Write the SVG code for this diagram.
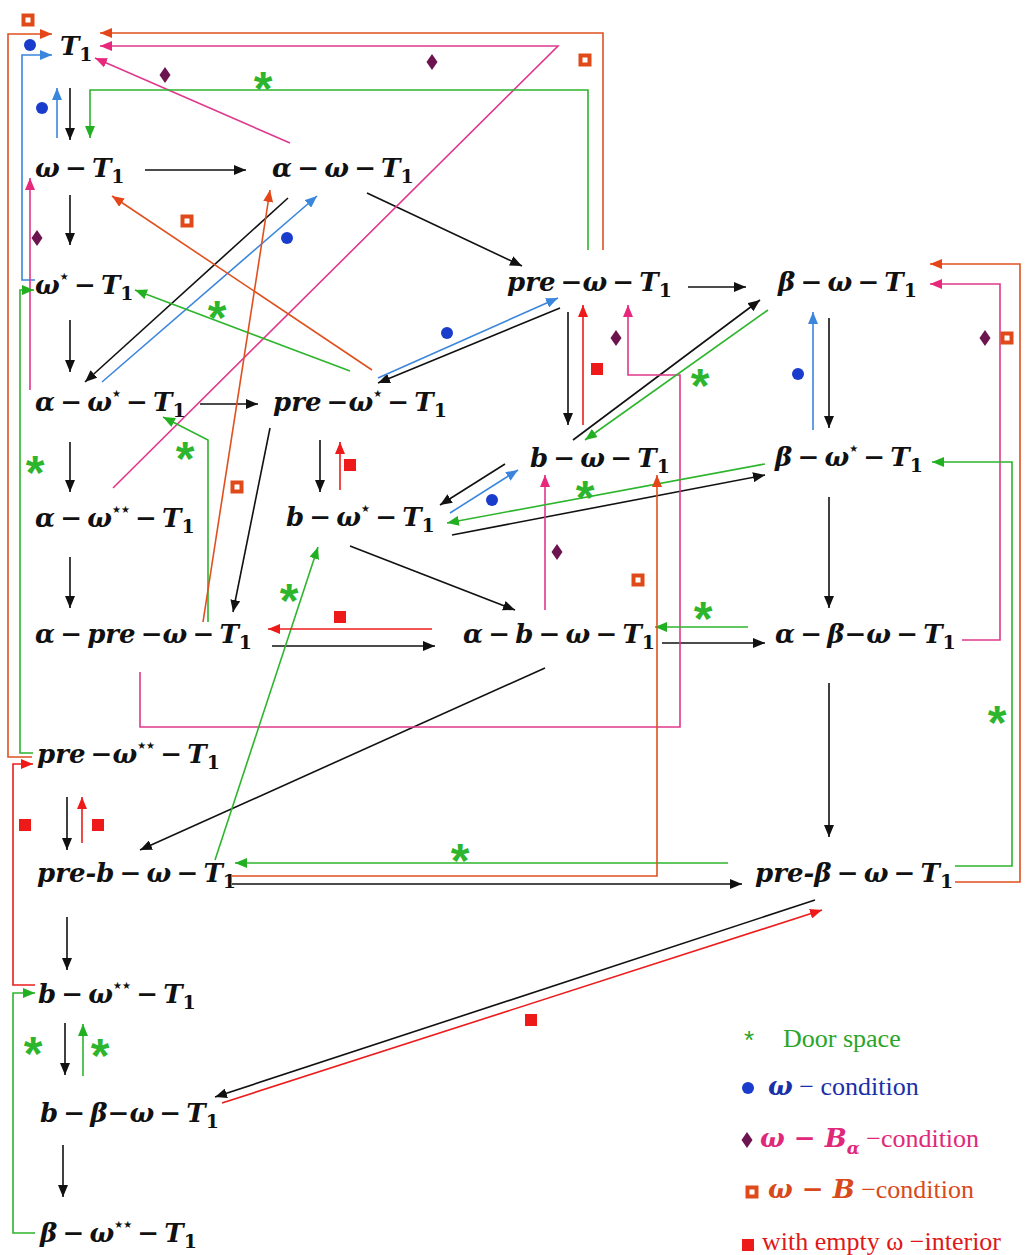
<svg xmlns="http://www.w3.org/2000/svg" xmlns:xlink="http://www.w3.org/1999/xlink" width="1025" height="1255" viewBox="0 0 1025 1255">
<style>
.n{font-family:"DejaVu Serif","Liberation Serif",serif;font-weight:bold;font-style:italic;font-size:26px;fill:#111}
.sub{font-size:19px;font-style:normal}
.sup{font-family:"DejaVu Sans",sans-serif;font-size:10px;font-style:normal}
.c{fill:none;stroke-width:1.6}
.k{stroke:#111;marker-end:url(#ak)}
.u{stroke:#3a86dc;marker-end:url(#au)}
.p{stroke:#e0388c;marker-end:url(#ap)}
.g{stroke:#2db52d;marker-end:url(#ag)}
.o{stroke:#e0501e;marker-end:url(#ao)}
.r{stroke:#ec1c1c;marker-end:url(#ar)}
.ast{font-family:"Liberation Sans",sans-serif;font-weight:bold;font-size:48px;fill:#2db52d;text-anchor:middle}
.lg{font-family:"Liberation Serif",serif;font-size:26px}
.bi{font-family:"DejaVu Serif",serif;font-weight:bold;font-style:italic}
</style>
<defs>
<marker id="ak" viewBox="0 0 12 10" refX="12" refY="5" markerWidth="12" markerHeight="10" markerUnits="userSpaceOnUse" orient="auto"><path d="M0,0L12,5L0,10z" fill="#111"/></marker>
<marker id="au" viewBox="0 0 12 10" refX="12" refY="5" markerWidth="12" markerHeight="10" markerUnits="userSpaceOnUse" orient="auto"><path d="M0,0L12,5L0,10z" fill="#3a86dc"/></marker>
<marker id="ap" viewBox="0 0 12 10" refX="12" refY="5" markerWidth="12" markerHeight="10" markerUnits="userSpaceOnUse" orient="auto"><path d="M0,0L12,5L0,10z" fill="#e8287c"/></marker>
<marker id="ag" viewBox="0 0 12 10" refX="12" refY="5" markerWidth="12" markerHeight="10" markerUnits="userSpaceOnUse" orient="auto"><path d="M0,0L12,5L0,10z" fill="#22b022"/></marker>
<marker id="ao" viewBox="0 0 12 10" refX="12" refY="5" markerWidth="12" markerHeight="10" markerUnits="userSpaceOnUse" orient="auto"><path d="M0,0L12,5L0,10z" fill="#e4461a"/></marker>
<marker id="ar" viewBox="0 0 12 10" refX="12" refY="5" markerWidth="12" markerHeight="10" markerUnits="userSpaceOnUse" orient="auto"><path d="M0,0L12,5L0,10z" fill="#ee1a1a"/></marker>
<g id="hsq"><rect x="-6.5" y="-6.5" width="13" height="13" fill="#e04a1a"/><rect x="-2.5" y="-2.5" width="5" height="5" fill="#fff"/></g>
<path id="dia" d="M0,-8L5.5,0L0,8L-5.5,0z" fill="#6b1450"/>
<circle id="dot" r="6" fill="#1a3ccc"/>
<rect id="rsq" x="-6" y="-6" width="12" height="12" fill="#ee1a1a"/>
</defs>
<rect width="1025" height="1255" fill="#fff"/>

<g id="connectors">
<!-- black -->
<path class="c k" d="M70,88L70,140"/>
<path class="c k" d="M145,170L246,170"/>
<path class="c k" d="M70,195L70,245"/>
<path class="c k" d="M70,320L70,372"/>
<path class="c k" d="M288,198L85,382"/>
<path class="c k" d="M367,193L522,266"/>
<path class="c k" d="M688,287L746,287"/>
<path class="c k" d="M200,404L258,404"/>
<path class="c k" d="M70,442L70,492"/>
<path class="c k" d="M70,557L70,608"/>
<path class="c k" d="M270,428L233,612"/>
<path class="c k" d="M320,440L320,492"/>
<path class="c k" d="M560,308L378,383"/>
<path class="c k" d="M568,312L568,425"/>
<path class="c k" d="M573,440L760,300"/>
<path class="c k" d="M829,318L829,428"/>
<path class="c k" d="M505,464L440,505"/>
<path class="c k" d="M452,535L765,475"/>
<path class="c k" d="M350,546L515,610"/>
<path class="c k" d="M272,646L435,646"/>
<path class="c k" d="M662,643L765,643"/>
<path class="c k" d="M829,497L829,608"/>
<path class="c k" d="M829,683L829,837"/>
<path class="c k" d="M545,668L140,850"/>
<path class="c k" d="M232,884L742,884"/>
<path class="c k" d="M815,900L215,1097"/>
<path class="c k" d="M67,797L67,850"/>
<path class="c k" d="M67,917L67,970"/>
<path class="c k" d="M65,1023L65,1075"/>
<path class="c k" d="M63,1145L63,1197"/>
<!-- blue -->
<path class="c u" d="M35,280L22,280L22,55L52,55"/>
<path class="c u" d="M57,138L57,88"/>
<path class="c u" d="M102,382L317,196"/>
<path class="c u" d="M378,378L558,298"/>
<path class="c u" d="M813,430L813,312"/>
<path class="c u" d="M450,513L518,470"/>
<!-- pink -->
<path class="c p" d="M290,143L95,58"/>
<path class="c p" d="M113,488L558,46L100,46"/>
<path class="c p" d="M30,390L30,178"/>
<path class="c p" d="M140,672L140,727L680,727L680,375L628,375L628,305"/>
<path class="c p" d="M545,610L545,475"/>
<path class="c p" d="M962,640L1000,640L1000,284L930,284"/>
<!-- green -->
<path class="c g" d="M588,250L588,90L90,90L90,138"/>
<path class="c g" d="M33,753L20,753L20,290L34,290"/>
<path class="c g" d="M350,371L135,290"/>
<path class="c g" d="M208,622L208,440L163,417"/>
<path class="c g" d="M215,860L318,547"/>
<path class="c g" d="M768,310L585,440"/>
<path class="c g" d="M765,464L447,523"/>
<path class="c g" d="M748,627L655,627"/>
<path class="c g" d="M955,866L1012,866L1012,462L932,462"/>
<path class="c g" d="M728,863L235,863"/>
<path class="c g" d="M83,1076L83,1024"/>
<path class="c g" d="M35,1233L13,1233L13,993L35,993"/>
<!-- orange -->
<path class="c o" d="M603,250L603,33L100,33"/>
<path class="c o" d="M32,757L8,757L8,34L52,34"/>
<path class="c o" d="M203,622L270,190"/>
<path class="c o" d="M372,370L112,196"/>
<path class="c o" d="M232,876L657,876L657,475"/>
<path class="c o" d="M955,882L1020,882L1020,264L930,264"/>
<!-- red -->
<path class="c r" d="M340,490L340,442"/>
<path class="c r" d="M583,425L583,305"/>
<path class="c r" d="M432,629L268,629"/>
<path class="c r" d="M82,843L82,797"/>
<path class="c r" d="M35,985L13,985L13,764L33,764"/>
<path class="c r" d="M222,1103L822,910"/>
</g>

<g id="edge-marks">
<use href="#hsq" x="28" y="20"/><use href="#hsq" x="585" y="60"/><use href="#hsq" x="187" y="221"/><use href="#hsq" x="237" y="487"/><use href="#hsq" x="638" y="580"/><use href="#hsq" x="1007" y="338"/>
<use href="#dia" x="165" y="75"/><use href="#dia" x="432" y="62"/><use href="#dia" x="37" y="238"/><use href="#dia" x="616" y="338"/><use href="#dia" x="557" y="552"/><use href="#dia" x="985" y="338"/>
<use href="#dot" x="30" y="45"/><use href="#dot" x="42" y="108"/><use href="#dot" x="287" y="238"/><use href="#dot" x="447" y="333"/><use href="#dot" x="492" y="500"/><use href="#dot" x="798" y="374"/>
<use href="#rsq" x="350" y="465"/><use href="#rsq" x="597" y="369"/><use href="#rsq" x="340" y="617"/><use href="#rsq" x="25" y="825"/><use href="#rsq" x="98" y="825"/><use href="#rsq" x="531" y="1020"/>
<text class="ast" x="263" y="105">*</text><text class="ast" x="217" y="334">*</text><text class="ast" x="185" y="475">*</text><text class="ast" x="35" y="489">*</text><text class="ast" x="289" y="617">*</text><text class="ast" x="700" y="402">*</text><text class="ast" x="585" y="514">*</text><text class="ast" x="703" y="635">*</text><text class="ast" x="997" y="739">*</text><text class="ast" x="460" y="877">*</text><text class="ast" x="33" y="1070">*</text><text class="ast" x="100" y="1072">*</text>
</g>

<g id="n-T1"><text class="n" x="60" y="55">T<tspan class="sub" dy="6">1</tspan></text></g>
<g id="n-w-T1"><text class="n" x="35" y="177">ω&#8201;−&#8201;T<tspan class="sub" dy="6">1</tspan></text></g>
<g id="n-a-w-T1"><text class="n" x="272" y="177">α&#8201;−&#8201;ω&#8201;−&#8201;T<tspan class="sub" dy="6">1</tspan></text></g>
<g id="n-ws-T1"><text class="n" x="35" y="294">ω<tspan class="sup" dy="-14">★</tspan><tspan dy="14">&#8201;−&#8201;T</tspan><tspan class="sub" dy="6">1</tspan></text></g>
<g id="n-pre-w-T1"><text class="n" x="507" y="291">pre&#8201;−ω&#8201;−&#8201;T<tspan class="sub" dy="6">1</tspan></text></g>
<g id="n-b-w-T1"><text class="n" x="778" y="291">β&#8201;−&#8201;ω&#8201;−&#8201;T<tspan class="sub" dy="6">1</tspan></text></g>
<g id="n-a-ws-T1"><text class="n" x="35" y="411">α&#8201;−&#8201;ω<tspan class="sup" dy="-14">★</tspan><tspan dy="14">&#8201;−&#8201;T</tspan><tspan class="sub" dy="6">1</tspan></text></g>
<g id="n-pre-ws-T1"><text class="n" x="273" y="411">pre&#8201;−ω<tspan class="sup" dy="-14">★</tspan><tspan dy="14">&#8201;−&#8201;T</tspan><tspan class="sub" dy="6">1</tspan></text></g>
<g id="n-bb-w-T1"><text class="n" x="530" y="467">b&#8201;−&#8201;ω&#8201;−&#8201;T<tspan class="sub" dy="6">1</tspan></text></g>
<g id="n-beta-ws-T1"><text class="n" x="775" y="466">β&#8201;−&#8201;ω<tspan class="sup" dy="-14">★</tspan><tspan dy="14">&#8201;−&#8201;T</tspan><tspan class="sub" dy="6">1</tspan></text></g>
<g id="n-a-wss-T1"><text class="n" x="35" y="527">α&#8201;−&#8201;ω<tspan class="sup" dy="-14">★★</tspan><tspan dy="14">&#8201;−&#8201;T</tspan><tspan class="sub" dy="6">1</tspan></text></g>
<g id="n-bb-ws-T1"><text class="n" x="286" y="526">b&#8201;−&#8201;ω<tspan class="sup" dy="-14">★</tspan><tspan dy="14">&#8201;−&#8201;T</tspan><tspan class="sub" dy="6">1</tspan></text></g>
<g id="n-a-pre-w-T1"><text class="n" x="35" y="643">α&#8201;−&#8201;pre&#8201;−ω&#8201;−&#8201;T<tspan class="sub" dy="6">1</tspan></text></g>
<g id="n-a-bb-w-T1"><text class="n" x="463" y="643">α&#8201;−&#8201;b&#8201;−&#8201;ω&#8201;−&#8201;T<tspan class="sub" dy="6">1</tspan></text></g>
<g id="n-a-beta-w-T1"><text class="n" x="775" y="643">α&#8201;−&#8201;β−ω&#8201;−&#8201;T<tspan class="sub" dy="6">1</tspan></text></g>
<g id="n-pre-wss-T1"><text class="n" x="37" y="763">pre&#8201;−ω<tspan class="sup" dy="-14">★★</tspan><tspan dy="14">&#8201;−&#8201;T</tspan><tspan class="sub" dy="6">1</tspan></text></g>
<g id="n-preb-w-T1"><text class="n" x="37" y="882">pre-b&#8201;−&#8201;ω&#8201;−&#8201;T<tspan class="sub" dy="6">1</tspan></text></g>
<g id="n-prebeta-w-T1"><text class="n" x="755" y="882">pre-β&#8201;−&#8201;ω&#8201;−&#8201;T<tspan class="sub" dy="6">1</tspan></text></g>
<g id="n-bb-wss-T1"><text class="n" x="38" y="1003">b&#8201;−&#8201;ω<tspan class="sup" dy="-14">★★</tspan><tspan dy="14">&#8201;−&#8201;T</tspan><tspan class="sub" dy="6">1</tspan></text></g>
<g id="n-bb-beta-w-T1"><text class="n" x="40" y="1122">b&#8201;−&#8201;β−ω&#8201;−&#8201;T<tspan class="sub" dy="6">1</tspan></text></g>
<g id="n-beta-wss-T1"><text class="n" x="40" y="1242">β&#8201;−&#8201;ω<tspan class="sup" dy="-14">★★</tspan><tspan dy="14">&#8201;−&#8201;T</tspan><tspan class="sub" dy="6">1</tspan></text></g>

<g id="legend">
<text x="749" y="1049" font-family="Liberation Sans,sans-serif" font-size="26" fill="#2aa52a" text-anchor="middle">*</text>
<text class="lg" x="783" y="1047" fill="#2aa52a">Door space</text>
<use href="#dot" x="748" y="1088"/>
<text class="lg" x="768" y="1095" fill="#1a2fa8"><tspan class="bi">ω</tspan> − condition</text>
<use href="#dia" x="747" y="1140"/>
<text class="lg" x="760" y="1147" fill="#e0287a"><tspan class="bi">ω − B</tspan><tspan class="bi" font-size="17" dy="7">α</tspan><tspan dy="-7"> −condition</tspan></text>
<use href="#hsq" x="752" y="1192"/>
<text class="lg" x="768" y="1198" fill="#d84a1a"><tspan class="bi">ω − B</tspan> −condition</text>
<use href="#rsq" x="748" y="1245"/>
<text class="lg" x="762" y="1250" fill="#e01818">with empty ω −interior</text>
</g>
</svg>
